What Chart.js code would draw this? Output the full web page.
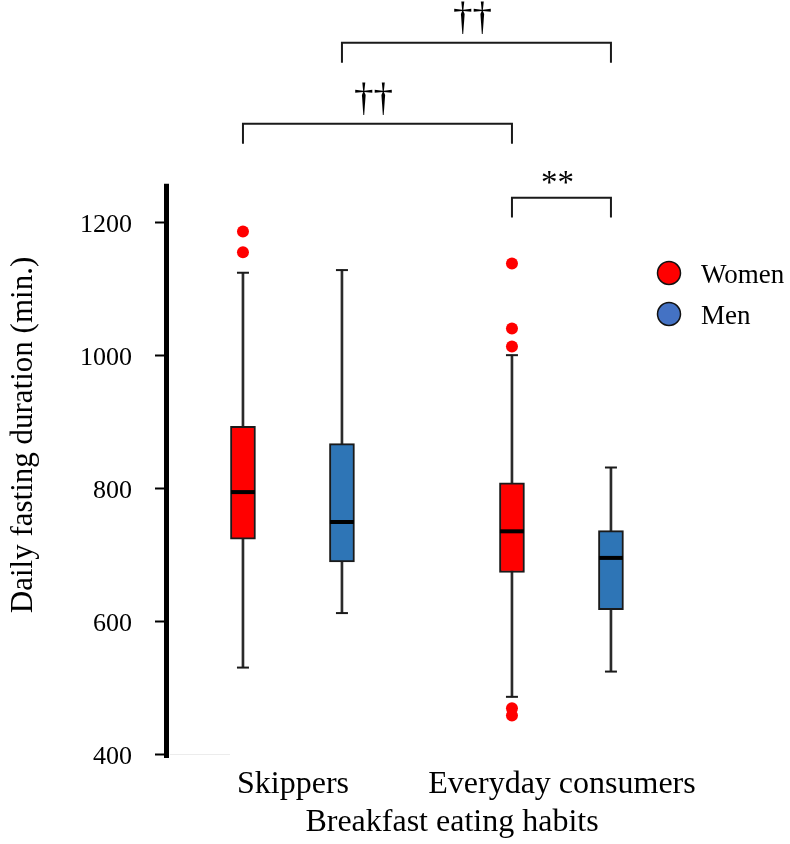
<!DOCTYPE html>
<html>
<head>
<meta charset="utf-8">
<script src="https://cdn.jsdelivr.net/npm/chart.js@4.4.0/dist/chart.umd.min.js"></script>
<style>
  html, body { margin: 0; padding: 0; background: #fff; overflow: hidden; }
  #wrap { width: 790px; height: 844px; position: relative; }
</style>
</head>
<body>
<div id="wrap"><canvas id="chart"></canvas></div>
<script>
// values (minutes)
const categories = ['Skippers', 'Everyday consumers'];
const groups = ['Women', 'Men'];

const womenLow = [530, 486];
const womenQ1 = [723, 673];
const womenMedian = [794, 735];
const womenQ3 = [893, 808];
const womenHigh = [1124, 1000];
const womenOutliers = [[1186, 1155], [1138, 1040, 1013, 469, 458]];

const menLow = [612, 524];
const menQ1 = [689, 617];
const menMedian = [749, 695];
const menQ3 = [867, 736];
const menHigh = [1128, 831];
const menOutliers = [[], []];

const yTicks = [400, 600, 800, 1000, 1200];

// significance brackets: [category, group] to [category, group]
const brackets = [
  { from: [0, 1], to: [1, 1], level: 1470, label: '\u2020\u2020' },
  { from: [0, 0], to: [1, 0], level: 1348, label: '\u2020\u2020' },
  { from: [1, 0], to: [1, 1], level: 1237, label: '**' }
];

const FONT = "'Liberation Serif', 'Times New Roman', serif";
const RED = '#ff0000';
const BLUE = '#2e75b6';
const groupShift = [-0.186, 0.182];
const pos = (c, g) => c + 1 + groupShift[g];

const boxData = (q1, q3, g) => q1.map((v, i) => ({ x: pos(i, g), y: [v, q3[i]] }));
const pointData = (vals, g) => vals.map((v, i) => ({ x: pos(i, g), y: v }));
const outlierData = (list, g) => list.flatMap((vals, i) => vals.map(v => ({ x: pos(i, g), y: v })));

const extras = {
  id: 'extras',
  afterDraw(chart) {
    const { ctx, scales: { x, y } } = chart;
    ctx.save();

    // faint base line
    ctx.strokeStyle = '#ececec';
    ctx.lineWidth = 1;
    ctx.beginPath();
    ctx.moveTo(x.left + 3, Math.round(y.getPixelForValue(400)) + 0.5);
    ctx.lineTo(x.left + 63, Math.round(y.getPixelForValue(400)) + 0.5);
    ctx.stroke();

    // thick y axis line
    ctx.strokeStyle = '#000';
    ctx.lineWidth = 5;
    ctx.beginPath();
    ctx.moveTo(x.left - 0.5, y.getPixelForValue(1258));
    ctx.lineTo(x.left - 0.5, y.getPixelForValue(400) + 4);
    ctx.stroke();

    // brackets
    ctx.strokeStyle = '#1a1a1a';
    ctx.lineWidth = 2;
    ctx.fillStyle = '#000';
    ctx.textAlign = 'center';
    ctx.textBaseline = 'alphabetic';
    brackets.forEach(b => {
      const x1 = x.getPixelForValue(pos(b.from[0], b.from[1]));
      const x2 = x.getPixelForValue(pos(b.to[0], b.to[1]));
      const yt = y.getPixelForValue(b.level);
      const yb = y.getPixelForValue(b.level - 30);
      ctx.beginPath();
      ctx.moveTo(x1, yb);
      ctx.lineTo(x1, yt);
      ctx.lineTo(x2, yt);
      ctx.lineTo(x2, yb);
      ctx.stroke();
      const dagger = b.label.includes('\u2020');
      ctx.font = (dagger ? '39px ' : '33px ') + FONT;
      ctx.fillText(b.label, (x1 + x2) / 2 - 4, yt - (dagger ? 14 : 5));
    });

    // legend
    const legendColors = [RED, '#4472c4'];
    ctx.font = '27px ' + FONT;
    ctx.textAlign = 'left';
    groups.forEach((name, i) => {
      const cy = 273 + i * 41;
      ctx.beginPath();
      ctx.arc(669, cy, 11.5, 0, Math.PI * 2);
      ctx.fillStyle = legendColors[i];
      ctx.fill();
      ctx.lineWidth = 1.5;
      ctx.strokeStyle = '#111';
      ctx.stroke();
      ctx.fillStyle = '#000';
      ctx.fillText(name, 701, cy + 10);
    });

    ctx.restore();
  }
};

new Chart(document.getElementById('chart'), {
  type: 'bar',
  data: {
    datasets: [
      { label: 'womenWhisker', data: boxData(womenLow, womenHigh, 0), backgroundColor: '#2b2b2b', barThickness: 2, grouped: false, order: 5 },
      { label: 'menWhisker', data: boxData(menLow, menHigh, 1), backgroundColor: '#2b2b2b', barThickness: 2, grouped: false, order: 5 },
      { label: 'Women', data: boxData(womenQ1, womenQ3, 0), backgroundColor: RED, borderColor: '#1a1a1a', borderWidth: 2, borderSkipped: false, barThickness: 25, grouped: false, order: 4 },
      { label: 'Men', data: boxData(menQ1, menQ3, 1), backgroundColor: BLUE, borderColor: '#1a1a1a', borderWidth: 2, borderSkipped: false, barThickness: 25, grouped: false, order: 4 },
      { type: 'line', label: 'caps', showLine: false, order: 3,
        data: [...pointData(womenLow, 0), ...pointData(womenHigh, 0), ...pointData(menLow, 1), ...pointData(menHigh, 1)],
        pointStyle: 'line', pointRadius: 6, pointBorderWidth: 2, pointBorderColor: '#1a1a1a' },
      { type: 'line', label: 'medians', showLine: false, order: 2,
        data: [...pointData(womenMedian, 0), ...pointData(menMedian, 1)],
        pointStyle: 'line', pointRadius: 12, pointBorderWidth: 4, pointBorderColor: '#000' },
      { type: 'line', label: 'outliers', showLine: false, order: 1,
        data: [...outlierData(womenOutliers, 0), ...outlierData(menOutliers, 1)],
        pointStyle: 'circle', pointRadius: 6, pointBorderWidth: 0, pointBackgroundColor: RED }
    ]
  },
  options: {
    responsive: true,
    maintainAspectRatio: false,
    animation: false,
    layout: { padding: { top: 116, right: 53, left: 0, bottom: 0 } },
    plugins: {
      legend: { display: false },
      tooltip: { enabled: false }
    },
    scales: {
      x: {
        type: 'linear',
        offset: false,
        min: 0.5316,
        max: 2.6506,
        grid: { display: false, offset: false },
        border: { display: false },
        afterBuildTicks: (scale) => { scale.ticks = categories.map((c, i) => ({ value: i + 1 })); },
        afterFit: (scale) => { scale.height = 90; },
        ticks: {
          autoSkip: false,
          maxRotation: 0,
          padding: 3,
          color: '#000',
          font: { family: FONT, size: 32 },
          callback: (v) => categories[Math.round(v) - 1]
        },
        title: {
          display: true,
          text: 'Breakfast eating habits',
          color: '#000',
          font: { family: FONT, size: 32 },
          padding: { top: 0, bottom: 2 }
        }
      },
      y: {
        min: 400,
        max: 1359.8,
        afterBuildTicks: (scale) => { scale.ticks = yTicks.map(v => ({ value: v })); },
        afterFit: (scale) => { scale.width = 167; },
        grid: { display: true, drawOnChartArea: false, drawTicks: true, tickLength: 12, tickWidth: 2, tickColor: '#000' },
        border: { display: false },
        ticks: {
          padding: 23,
          labelOffset: 3,
          color: '#000',
          font: { family: FONT, size: 26 },
          callback: (v) => String(v)
        },
        title: {
          display: true,
          text: 'Daily fasting duration (min.)',
          color: '#000',
          font: { family: FONT, size: 31 },
          padding: { top: 5, bottom: 0 }
        }
      }
    }
  },
  plugins: [extras]
});
</script>
</body>
</html>
